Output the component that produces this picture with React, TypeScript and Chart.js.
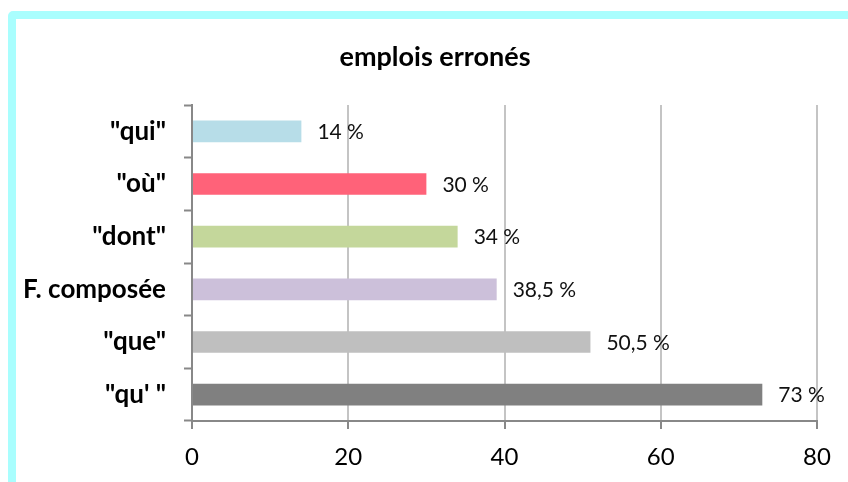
import React, { useEffect, useRef } from "react";
import { Chart, registerables } from "chart.js";

Chart.register(...registerables);

const titleText = "emplois erronés";
const categories = ['"qui"', '"où"', '"dont"', "F. composée", '"que"', '"qu\' "'];
const values = [14, 30, 34, 39, 51, 73];
const valueLabels = ["14 %", "30 %", "34 %", "38,5 %", "50,5 %", "73 %"];
const barColors = ["#b7dde8", "#ff6279", "#c4d79b", "#ccc0da", "#bfbfbf", "#808080"];
const xTicks = [0, 20, 40, 60, 80];

const FONT = "Lato, 'Open Sans', sans-serif";

const valueLabelPlugin = {
  id: "valueLabels",
  afterDatasetsDraw(chart: any) {
    const ctx = chart.ctx;
    const meta = chart.getDatasetMeta(0);
    ctx.save();
    ctx.font = `21px ${FONT}`;
    ctx.fillStyle = "#111";
    ctx.textAlign = "left";
    ctx.textBaseline = "middle";
    meta.data.forEach((bar: any, i: number) => {
      ctx.fillText(valueLabels[i], bar.x + 16, bar.y + 1);
    });
    ctx.restore();
  },
};

const titlePlugin = {
  id: "customTitle",
  afterDraw(chart: any) {
    const ctx = chart.ctx;
    ctx.save();
    ctx.font = `bold 27px ${FONT}`;
    ctx.fillStyle = "#000";
    ctx.textAlign = "center";
    ctx.textBaseline = "middle";
    ctx.fillText(titleText, 435, 57);
    ctx.restore();
  },
};

export default function App() {
  const ref = useRef<HTMLCanvasElement>(null);
  useEffect(() => {
    if (!ref.current) return;
    const chart = new Chart(ref.current, {
      type: "bar",
      data: {
        labels: categories,
        datasets: [
          {
            data: values,
            backgroundColor: barColors,
            borderWidth: 0,
            categoryPercentage: 1,
            barPercentage: 0.41,
          },
        ],
      },
      options: {
        indexAxis: "y",
        animation: false,
        responsive: false,
        layout: { padding: { left: 16, right: 31, top: 105, bottom: 0 } },
        plugins: {
          legend: { display: false },
          tooltip: { enabled: false },
          title: { display: false },
        },
        scales: {
          x: {
            min: 0,
            max: 80,
            afterBuildTicks(scale: any) {
              scale.ticks = xTicks.map((v) => ({ value: v }));
            },
            afterFit(scale: any) {
              scale.height = 61;
            },
            grid: {
              color: "#c4c4c4",
              lineWidth: 2,
              tickLength: 8,
              tickColor: "#888888",
              tickWidth: 2,
            },
            border: { color: "#888888", width: 2 },
            ticks: {
              color: "#000",
              padding: 14,
              font: { family: FONT, size: 24 },
            },
          },
          y: {
            afterFit(scale: any) {
              scale.width = 176;
            },
            grid: {
              drawOnChartArea: false,
              tickLength: 8,
              tickColor: "#888888",
              tickWidth: 2,
            },
            border: { color: "#888888", width: 2 },
            ticks: {
              color: "#000",
              padding: 18,
              font: { family: FONT, size: 26, weight: "bold" },
            },
          },
        },
      },
      plugins: [valueLabelPlugin, titlePlugin],
    });
    return () => chart.destroy();
  }, []);

  return (
    <div style={{ position: "fixed", left: 0, top: 0, width: 848, height: 482, overflow: "hidden", background: "#fff" }}>
      <div
        style={{
          position: "absolute",
          left: 8,
          top: 11,
          width: 900,
          height: 520,
          border: "8px solid #a9fefe",
          borderRadius: 5,
          boxSizing: "border-box",
        }}
      />
      <canvas ref={ref} width={848} height={482} style={{ position: "absolute", left: 0, top: 0 }} />
    </div>
  );
}
